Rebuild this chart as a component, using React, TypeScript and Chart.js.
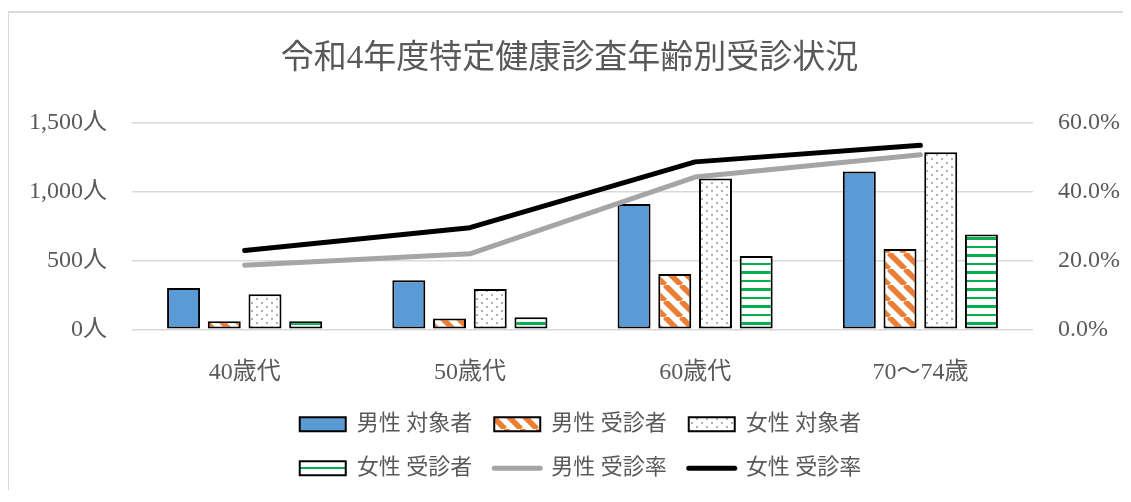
import React, { useEffect, useRef } from 'react';
import { Chart, registerables } from 'chart.js';

Chart.register(...registerables);

const titleText = '令和4年度特定健康診査年齢別受診状況';
const categories = ['40歳代', '50歳代', '60歳代', '70～74歳'];
const maleTarget = [300, 356, 910, 1145];
const maleExam = [58, 78, 402, 583];
const femaleTarget = [254, 293, 1094, 1285];
const femaleExam = [58, 87, 532, 688];
const maleRate = [18.6, 21.9, 44.2, 50.7];
const femaleRate = [22.9, 29.5, 48.6, 53.4];
const seriesLabels = ['男性 対象者', '男性 受診者', '女性 対象者', '女性 受診者', '男性 受診率', '女性 受診率'];
const leftTicks = [0, 500, 1000, 1500];
const rightTicks = [0, 20, 40, 60];

const FONT = '"Liberation Serif", "Noto Sans CJK JP", serif';
const TEXT = '#595959';
const CANVAS_W = 1121;
const CANVAS_H = 480;
const LEGEND_W = 680;
const LEGEND_SHIFT = 11;

function makePattern(kind: string): CanvasPattern | string {
  const c = document.createElement('canvas');
  const g = c.getContext('2d');
  if (!g) return '#fff';
  if (kind === 'stripes') {
    c.width = 16; c.height = 16;
    g.fillStyle = '#ffffff'; g.fillRect(0, 0, 16, 16);
    g.strokeStyle = '#ED7D31'; g.lineWidth = 5.5;
    for (const o of [-16, 0, 16]) {
      g.beginPath(); g.moveTo(o, 0); g.lineTo(o + 16, 16); g.stroke();
    }
  } else if (kind === 'dots') {
    c.width = 10; c.height = 8;
    g.fillStyle = '#ffffff'; g.fillRect(0, 0, 10, 8);
    g.fillStyle = '#b0b0b0';
    g.fillRect(2, 1, 2, 2);
    g.fillRect(7, 5, 2, 2);
  } else {
    c.width = 4; c.height = 17;
    g.fillStyle = '#ffffff'; g.fillRect(0, 0, 4, 17);
    g.fillStyle = '#00B050';
    g.fillRect(0, 3, 4, 3);
    g.fillRect(0, 12, 4, 2);
  }
  return g.createPattern(c, 'repeat') || '#fff';
}

const legendWrap = {
  id: 'legendWrap',
  beforeLayout(chart: any) {
    const lg = chart.legend;
    if (lg && !lg.__patched) {
      const orig = lg.update.bind(lg);
      lg.update = (mw: number, mh: number, m: any) => orig(Math.min(mw, LEGEND_W), mh, m);
      lg.__patched = true;
    }
  },
  afterLayout(chart: any) {
    const lg = chart.legend;
    if (!lg) return;
    const cx = chart.width / 2 + LEGEND_SHIFT;
    lg.left = cx - LEGEND_W / 2;
    lg.right = cx + LEGEND_W / 2;
    lg.width = LEGEND_W;
  },
};

export default function App() {
  const ref = useRef<HTMLCanvasElement | null>(null);

  useEffect(() => {
    if (!ref.current) return;
    const stripes = makePattern('stripes');
    const dots = makePattern('dots');
    const hlines = makePattern('hlines');

    const barCommon = {
      type: 'bar' as const,
      borderColor: '#000000',
      borderWidth: 2,
      borderSkipped: false,
      yAxisID: 'y',
      order: 1,
      categoryPercentage: 0.723,
      barPercentage: 0.81,
    };

    const chart = new Chart(ref.current, {
      type: 'bar',
      data: {
        labels: categories,
        datasets: [
          { ...barCommon, label: seriesLabels[0], data: maleTarget, backgroundColor: '#5B9BD5' },
          { ...barCommon, label: seriesLabels[1], data: maleExam, backgroundColor: stripes },
          { ...barCommon, label: seriesLabels[2], data: femaleTarget, backgroundColor: dots },
          { ...barCommon, label: seriesLabels[3], data: femaleExam, backgroundColor: hlines },
          {
            type: 'line', label: seriesLabels[4], data: maleRate, yAxisID: 'y1', order: 0,
            borderColor: '#A5A5A5', backgroundColor: '#A5A5A5', borderWidth: 5,
            borderCapStyle: 'round', borderJoinStyle: 'round', pointRadius: 0, tension: 0,
          },
          {
            type: 'line', label: seriesLabels[5], data: femaleRate, yAxisID: 'y1', order: 0,
            borderColor: '#000000', backgroundColor: '#000000', borderWidth: 5,
            borderCapStyle: 'round', borderJoinStyle: 'round', pointRadius: 0, tension: 0,
          },
        ] as any,
      },
      options: {
        responsive: false,
        animation: false,
        devicePixelRatio: 1,
        layout: { padding: { top: 0, left: 0, right: 0, bottom: 3.7 } },
        plugins: {
          tooltip: { enabled: false },
          title: {
            display: true,
            text: titleText,
            color: TEXT,
            font: { family: FONT, size: 33, weight: 'normal' as any },
            padding: { top: 27, bottom: 43 },
          },
          legend: {
            display: true,
            position: 'bottom',
            labels: {
              color: TEXT,
              font: { family: FONT, size: 22 },
              usePointStyle: true,
              pointStyleWidth: 46,
              boxHeight: 14,
              padding: 22,
              sort: (a: any, b: any) => a.datasetIndex - b.datasetIndex,
              generateLabels: (ch: any) => {
                const items = (Chart.defaults.plugins.legend.labels as any).generateLabels(ch);
                return items.map((it: any) => {
                  const ds: any = ch.data.datasets[it.datasetIndex];
                  if (ds.type === 'line') {
                    return { ...it, pointStyle: 'line', strokeStyle: ds.borderColor, fillStyle: ds.borderColor, lineWidth: 5, lineCap: 'round' };
                  }
                  return { ...it, pointStyle: 'rect', fillStyle: ds.backgroundColor, strokeStyle: '#000000', lineWidth: 2 };
                });
              },
            },
          },
        },
        scales: {
          x: {
            grid: { display: false },
            border: { display: false },
            ticks: { color: TEXT, font: { family: FONT, size: 24 }, padding: 21 },
            afterFit: (s: any) => { s.height = 62; },
          },
          y: {
            position: 'left',
            min: 0,
            max: leftTicks[leftTicks.length - 1],
            grid: { color: '#d9d9d9', lineWidth: 1.5, drawTicks: false },
            border: { display: false },
            afterBuildTicks: (s: any) => { s.ticks = leftTicks.map((v) => ({ value: v })); },
            ticks: {
              color: TEXT,
              font: { family: FONT, size: 24 },
              padding: 25,
              callback: (v: any) => Number(v).toLocaleString('en-US') + '人',
            },
            afterFit: (s: any) => { s.width = 123; },
          },
          y1: {
            position: 'right',
            min: 0,
            max: rightTicks[rightTicks.length - 1],
            grid: { drawOnChartArea: false, drawTicks: false },
            border: { display: false },
            afterBuildTicks: (s: any) => { s.ticks = rightTicks.map((v) => ({ value: v })); },
            ticks: {
              color: TEXT,
              font: { family: FONT, size: 24 },
              padding: 25,
              callback: (v: any) => Number(v).toFixed(1) + '%',
            },
            afterFit: (s: any) => { s.width = CANVAS_W - 1024; },
          },
        },
      },
      plugins: [legendWrap],
    } as any);

    return () => chart.destroy();
  }, []);

  return (
    <div
      style={{
        position: 'relative',
        left: -1,
        top: 3,
        width: CANVAS_W + 2,
        height: CANVAS_H + 2,
        borderLeft: '2px solid #d9d9d9',
        borderTop: '2px solid #d9d9d9',
        boxSizing: 'border-box',
        background: '#ffffff',
      }}
    >
      <canvas ref={ref} width={CANVAS_W} height={CANVAS_H} style={{ display: 'block' }} />
    </div>
  );
}
